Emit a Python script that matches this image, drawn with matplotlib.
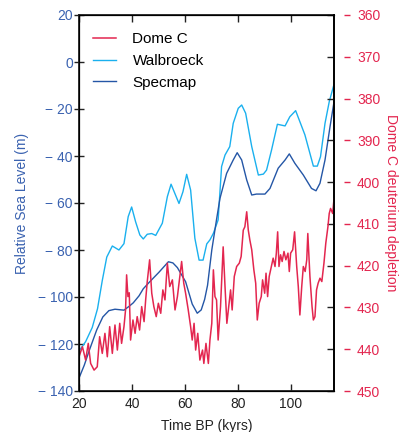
import numpy as np
import matplotlib.pyplot as plt
from matplotlib.ticker import FuncFormatter, FixedLocator

plt.rcParams['font.family'] = ['Liberation Sans', 'DejaVu Sans']
plt.rcParams['font.size'] = 10

# Walbroeck sea level reconstruction (kyr BP, m)
wal_t = [20.0, 22.5, 25.0, 27.0, 28.8, 30.5, 32.6, 35.1, 37.0, 38.6, 39.9, 41.4,
         43.0, 44.3, 45.8, 47.5, 49.0, 51.5, 53.4, 54.8, 57.8, 59.3, 60.7, 62.2,
         63.8, 65.4, 66.9, 68.3, 69.5, 70.8, 72.6, 73.9, 75.2, 77.0, 78.3, 80.2,
         81.5, 83.0, 85.3, 87.8, 89.7, 90.9, 92.8, 95.0, 97.9, 99.7, 101.9, 103.5,
         105.4, 107.3, 108.6, 110.1, 111.3, 113.0, 114.6, 116.4]
wal_sl = [-123, -119, -113, -105, -93, -83, -78.3, -80, -77.3, -65.8, -61.7, -68,
          -73.6, -75.3, -73.3, -73, -73.8, -68.6, -57.3, -52, -60.2, -55.2, -47.8, -54.5,
          -75, -84.3, -84.3, -77.4, -75.7, -72.9, -67.2, -44.5, -39.6, -36, -26.1, -19.7,
          -18.3, -21.8, -36, -48.1, -47.7, -46, -37.4, -26.5, -27.2, -23.3, -20.7, -25.4,
          -31, -38.9, -44.3, -44.3, -40.3, -26.1, -16.9, -9.5]

# Specmap stack (kyr BP, m)
spec_t = [20.0, 22.0, 23.8, 26.7, 29.0, 31.3, 33.6, 37.0, 38.9, 40.5, 42.7, 44.3,
          46.5, 50.2, 53.8, 55.5, 57.2, 60.3, 62.8, 64.7, 66.2, 67.5, 68.6, 70.2,
          72.0, 73.3, 75.8, 78.3, 79.8, 81.5, 83.4, 85.3, 87.1, 90.3, 92.2, 95.3,
          97.9, 99.5, 101.6, 104.8, 107.9, 109.6, 111.1, 113.0, 114.9, 116.4]
spec_sl = [-134.5, -129, -123, -114, -108.5, -105.8, -105.2, -105.6, -104, -102.5, -99.5, -96.5,
           -93.8, -89.5, -85, -85.5, -87.5, -93.5, -103, -106.9, -105.5, -101, -95, -80,
           -67, -58, -47.4, -41.7, -38.6, -41.7, -50.2, -56.6, -56.2, -56.2, -53.8, -45.2,
           -41.7, -39.1, -43.1, -48.1, -53.8, -54.8, -51.6, -41.7, -27.5, -17]

# Dome C deuterium depletion (kyr BP, permil)
dome_t = [20.0, 21.3, 22.5, 23.5, 24.4, 25.7, 26.9, 27.8, 28.8, 29.8, 30.7, 31.6,
          32.6, 33.6, 34.5, 35.4, 36.1, 37.0, 37.6, 38.0, 38.5, 39.0, 39.5, 40.4,
          41.2, 42.0, 42.9, 43.7, 44.6, 45.2, 45.8, 46.7, 47.5, 48.3, 49.2, 50.0,
          50.9, 51.7, 52.5, 53.4, 54.3, 55.3, 56.3, 57.2, 58.1, 58.8, 59.6, 60.3,
          61.3, 62.2, 62.8, 63.5, 64.1, 64.9, 65.7, 66.7, 67.2, 68.0, 68.9, 69.5,
          70.2, 70.8, 71.4, 72.0, 72.6, 73.5, 74.5, 75.2, 75.9, 76.6, 77.3, 77.9,
          78.7, 79.6, 80.6, 81.3, 82.1, 82.7, 83.4, 84.0, 84.6, 85.3, 86.1, 86.8,
          87.4, 88.1, 88.9, 89.4, 90.2, 90.7, 91.3, 91.9, 92.7, 93.4, 94.1, 94.6,
          95.1, 95.6, 96.2, 96.8, 97.5, 98.2, 99.0, 99.5, 100.0, 100.8, 101.5, 102.3,
          102.9, 103.5, 104.2, 104.8, 105.5, 106.1, 106.5, 107.3, 108.1, 108.6, 109.2, 109.8,
          110.4, 111.1, 111.8, 112.6, 113.3, 114.1, 114.6, 115.1, 115.9, 116.4]
dome_dd = [441.8, 439.4, 442.6, 438.6, 443.4, 445, 444.2, 437, 441, 436.2, 441.8, 434.6,
           441, 434.2, 440.2, 433.8, 438.6, 434.6, 430.6, 422.2, 427.4, 426.5, 437.8, 433,
           436.2, 432.2, 435.4, 429.8, 433.4, 428.2, 423.8, 418.6, 426.6, 429.8, 432.2, 429,
           431.4, 425.8, 428.2, 419.4, 425, 423.4, 430.6, 427.4, 422.6, 419, 424.2, 426.6,
           430.6, 434.6, 437.8, 433.8, 440.2, 436.2, 442.6, 440.2, 443.4, 438.6, 443.4, 437.8,
           433.8, 421, 427.4, 428.2, 437.8, 429.8, 415.5, 425, 433.8, 429.8, 425.8, 430.6,
           422.6, 420.2, 419.4, 417.8, 411.5, 410.7, 407.1, 411.5, 413.9, 416.2, 421, 424.2,
           433, 429, 427.4, 423.4, 426.6, 421.8, 427.4, 422.6, 420.2, 418.2, 420.2, 417,
           411.9, 420.2, 417.4, 419, 416.6, 418.6, 417, 421.4, 417, 416.2, 411.9, 420.2,
           425, 431.8, 425, 420.2, 421.4, 418.6, 412.3, 422.6, 429.8, 433, 432.2, 425.8,
           424.2, 423, 423.8, 419.4, 414.6, 410.7, 407.5, 406.3, 407.5, 404]

sl_ticks = list(range(-140, 21, 20))
dd_ticks = list(range(360, 451, 10))

c_blue_txt = '#3a62b0'
c_red = '#e3264f'
c_wal = '#1ab0ee'
c_spec = '#2456a6'

fig = plt.figure(figsize=(3.99, 4.32), dpi=100)
ax = fig.add_axes([79/399, 1 - 391/432, (334-79)/399, (391-15)/432])

ax.plot(wal_t, wal_sl, color=c_wal, lw=1.0, label='Walbroeck')
ax.plot(spec_t, spec_sl, color=c_spec, lw=1.0, label='Specmap')
ax.set_xlim(20, 116.4)
ax.set_ylim(-140, 20)
ax.set_xticks([20, 40, 60, 80, 100])
ax.yaxis.set_major_locator(FixedLocator(sl_ticks))
ax.yaxis.set_major_formatter(FuncFormatter(
    lambda v, p: f'\u2212 {abs(int(v))}' if v < 0 else f'{int(v)}'))
ax.tick_params(axis='x', direction='in', top=True, length=5, width=1,
               colors='#222222', labelsize=10, pad=4)
ax.tick_params(axis='y', direction='inout', length=7, width=1, color='#222222',
               labelcolor=c_blue_txt, labelsize=10, pad=1)
for s in ax.spines.values():
    s.set_linewidth(1.3)
    s.set_color('#222222')
ax.set_xlabel('Time BP (kyrs)', color='#222222', fontsize=10, labelpad=6)
ax.set_ylabel('Relative Sea Level (m)', color=c_blue_txt, fontsize=10, labelpad=6)

# deuterium on a reversed right-hand scale
ax2 = ax.twinx()
ax2.plot(dome_t, dome_dd, color=c_red, lw=1.1, label='Dome C')
ax2.set_ylim(450, 360)
ax2.yaxis.set_major_locator(FixedLocator(dd_ticks))
ax2.tick_params(axis='y', direction='in', length=5, width=1, color='#222222',
                labelright=False)
ax2.spines['right'].set_linewidth(1.3)

# red outer ticks and labels, set off from the frame
ax3 = ax.twinx()
ax3.set_ylim(450, 360)
ax3.yaxis.set_major_locator(FixedLocator(dd_ticks))
ax3.spines['right'].set_position(('outward', 7))
ax3.spines['right'].set_visible(False)
ax3.tick_params(axis='y', direction='out', length=4.5, width=1, color=c_red,
                labelcolor=c_red, labelsize=10, pad=5)
ax3.set_ylabel('Dome C deuterium depletion', color=c_red, fontsize=10,
               rotation=270, labelpad=13)
ax3.patch.set_visible(False)

handles = ax2.get_lines() + ax.get_lines()
ax3.legend(handles, [h.get_label() for h in handles], loc='upper left',
           frameon=False, fontsize=11, handlelength=1.55, handletextpad=1.05,
           labelspacing=0.5, borderaxespad=0.0, bbox_to_anchor=(0.03, 0.97))

fig.savefig('out.png', dpi=100)
